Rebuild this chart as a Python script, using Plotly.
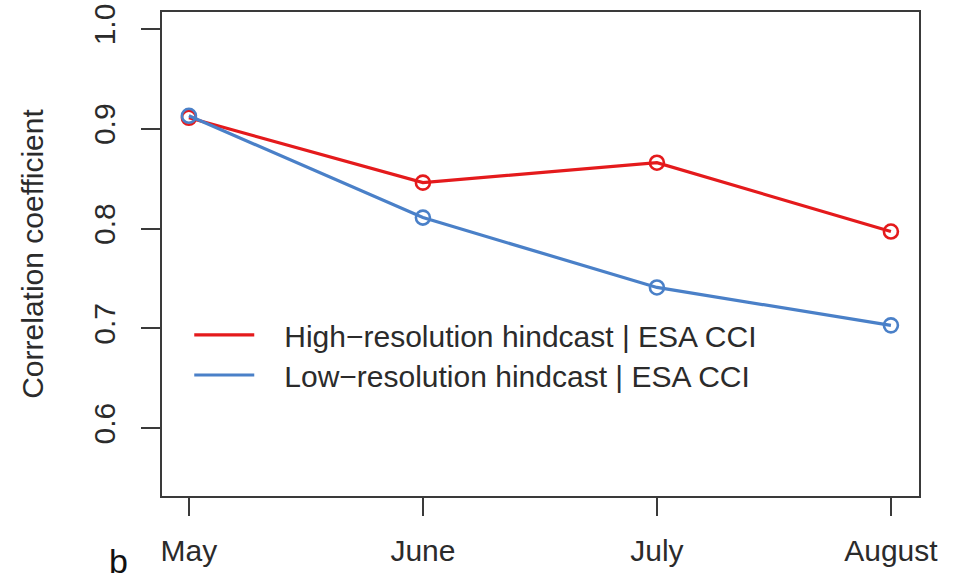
import plotly.graph_objects as go

# Monthly correlation of soil moisture hindcasts against ESA CCI
months = ["May", "June", "July", "August"]
high_res = [0.911, 0.846, 0.866, 0.797]
low_res = [0.913, 0.811, 0.741, 0.703]
y_ticks = [0.6, 0.7, 0.8, 0.9, 1.0]
y_tick_text = ["0.6", "0.7", "0.8", "0.9", "1.0"]

RED = "#E41A1C"
BLUE = "#4A80C8"
INK = "#2b2b2b"
FRAME = "#3a3a3a"
FONT = "Liberation Sans, Arial, sans-serif"
FS = 30

x_pos = list(range(1, len(months) + 1))

fig = go.Figure()

series = [
    ("High\u2212resolution hindcast | ESA CCI", high_res, RED, "legend"),
    ("Low\u2212resolution hindcast | ESA CCI", low_res, BLUE, "legend2"),
]

# lines with open-circle markers
for name, vals, col, _ in series:
    fig.add_trace(go.Scatter(
        x=x_pos, y=vals, mode="lines+markers", name=name,
        line=dict(color=col, width=3.2),
        marker=dict(symbol="circle-open", size=14, color=col, line=dict(width=2.6, color=col)),
        showlegend=False,
    ))

# legend entries show the line only, one legend box per row
for name, vals, col, leg in series:
    fig.add_trace(go.Scatter(
        x=[None], y=[None], mode="lines", name="\u00a0\u00a0\u00a0" + name,
        line=dict(color=col, width=3.2),
        showlegend=True, legend=leg,
    ))

legend_style = dict(
    xanchor="left", yanchor="middle",
    bgcolor="rgba(0,0,0,0)", borderwidth=0,
    font=dict(size=FS, color=INK, family=FONT),
    itemwidth=60,
)

fig.update_layout(
    width=953, height=585,
    margin=dict(l=162, r=34, t=12, b=89, autoexpand=False),
    paper_bgcolor="white", plot_bgcolor="white",
    font=dict(family=FONT, size=FS, color=INK),
    showlegend=True,
    legend=dict(x=0.036, y=0.333, **legend_style),
    legend2=dict(x=0.036, y=0.250, **legend_style),
    xaxis=dict(
        range=[0.885, 4.12], tickmode="array", tickvals=x_pos, ticktext=months,
        showgrid=False, zeroline=False, automargin=False,
        showline=True, linecolor=FRAME, linewidth=2, mirror=True,
        ticks="outside", ticklen=18, tickwidth=2, tickcolor=FRAME,
        ticklabelstandoff=9,
        tickfont=dict(size=FS, color=INK),
    ),
    yaxis=dict(
        range=[0.532, 1.017], tickmode="array", tickvals=y_ticks, ticktext=y_tick_text,
        showgrid=False, zeroline=False, automargin=False,
        showline=True, linecolor=FRAME, linewidth=2, mirror=True,
        ticks="outside", ticklen=19, tickwidth=2, tickcolor=FRAME,
        tickangle=-90, ticklabelstandoff=14,
        tickfont=dict(size=FS, color=INK),
        title=dict(text="Correlation coefficient", font=dict(size=FS, color=INK), standoff=36),
    ),
    annotations=[
        dict(text="b", xref="paper", yref="paper", x=-0.058, y=-0.135,
             xanchor="center", yanchor="middle", showarrow=False,
             font=dict(size=34, color="#111", family=FONT)),
    ],
)

fig.write_html("out.html")
